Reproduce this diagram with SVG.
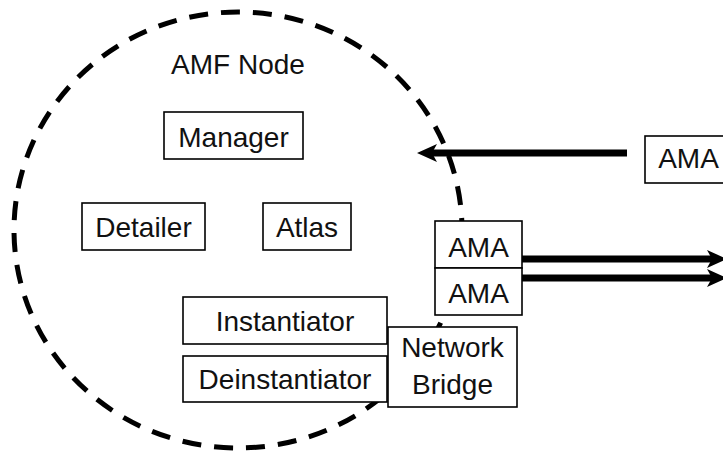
<svg xmlns="http://www.w3.org/2000/svg" width="723" height="453" viewBox="0 0 723 453">
<style>
.box{fill:#fff;stroke:#000;stroke-width:1.6}
.t{font-family:"Liberation Sans",Arial,sans-serif;font-size:28px;fill:#111;text-anchor:middle}
.arr{stroke:#000;stroke-width:7;fill:none}
</style>
<defs>
<marker id="ah" markerUnits="userSpaceOnUse" viewBox="0 0 20 20" markerWidth="20" markerHeight="20" refX="5" refY="10" orient="auto">
<path d="M0,1 L20,10 L0,19 L5,10 Z" fill="#000"/>
</marker>
</defs>
<rect width="723" height="453" fill="#fff"/>
<g id="amf-node">
<ellipse cx="238" cy="230" rx="224" ry="218" fill="none" stroke="#000" stroke-width="5" stroke-dasharray="19 13"/>
<text class="t" x="238" y="74">AMF Node</text>
</g>
<g id="connectors">
<line class="arr" x1="627" y1="153" x2="432" y2="153" marker-end="url(#ah)"/>
<line class="arr" x1="522" y1="259" x2="712" y2="259" marker-end="url(#ah)"/>
<line class="arr" x1="522" y1="278" x2="712" y2="278" marker-end="url(#ah)"/>
</g>
<g id="manager"><rect class="box" x="164" y="112" width="139" height="47"/><text class="t" x="233.5" y="147">Manager</text></g>
<g id="detailer"><rect class="box" x="82" y="203" width="123" height="47"/><text class="t" x="143.5" y="237">Detailer</text></g>
<g id="atlas"><rect class="box" x="263" y="203" width="88" height="47"/><text class="t" x="307" y="237">Atlas</text></g>
<g id="ama1"><rect class="box" x="435" y="221" width="87" height="47"/><text class="t" x="478.5" y="257">AMA</text></g>
<g id="ama2"><rect class="box" x="435" y="268" width="87" height="47"/><text class="t" x="478.5" y="303">AMA</text></g>
<g id="ama-remote"><rect class="box" x="645" y="136" width="90" height="47"/><text class="t" x="688.5" y="168">AMA</text></g>
<g id="instantiator"><rect class="box" x="183" y="297" width="204" height="47"/><text class="t" x="285" y="331">Instantiator</text></g>
<g id="deinstantiator"><rect class="box" x="183" y="356" width="204" height="46"/><text class="t" x="285" y="389">Deinstantiator</text></g>
<g id="network-bridge"><rect class="box" x="388" y="327" width="129" height="80"/><text class="t" x="452.5" y="357">Network</text><text class="t" x="452.5" y="394">Bridge</text></g>
</svg>
